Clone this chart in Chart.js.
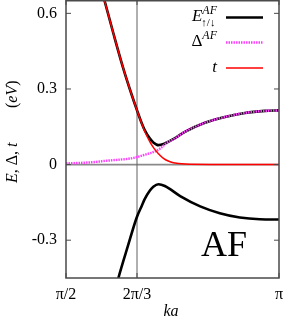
<!DOCTYPE html>
<html>
<head>
<meta charset="utf-8">
<script src="https://cdn.jsdelivr.net/npm/chart.js@4/dist/chart.umd.min.js"></script>
<style>
html,body{margin:0;padding:0;background:#fff;}
#wrap{width:285px;height:318px;position:relative;}
</style>
</head>
<body>
<div id="wrap"><canvas id="c" width="285" height="318"></canvas></div>
<script>
// x values are ka in units of pi
const xTicks = [0.5, 2/3, 1.0];
const xTickLabels = ['π/2', '2π/3', 'π'];
const yTicks = [-0.3, 0, 0.3, 0.6];
const yTickLabels = ['-0.3', '0', '0.3', '0.6'];

const kaEUp = [0.575, 0.590, 0.611, 0.633, 0.654, 0.668, 0.678, 0.685, 0.697, 0.705, 0.717, 0.732, 0.756, 0.779, 0.826, 0.873, 0.920, 0.967, 1.000];
const eUp   = [0.75,  0.653, 0.522, 0.390, 0.278, 0.209, 0.163, 0.136, 0.103, 0.088, 0.077, 0.084, 0.105, 0.130, 0.166, 0.189, 0.205, 0.213, 0.215];

const kaEDn = [0.600, 0.623, 0.645, 0.666, 0.678, 0.685, 0.697, 0.705, 0.717, 0.732, 0.768, 0.815, 0.861, 0.908, 0.955, 1.000];
const eDn   = [-0.60, -0.45, -0.325, -0.210, -0.163, -0.136, -0.103, -0.088, -0.078, -0.085, -0.125, -0.166, -0.193, -0.210, -0.217, -0.218];

const kaDelta = [0.5, 0.55, 0.6, 0.65, 0.667, 0.681, 0.697, 0.709, 0.722, 0.736, 0.756, 0.779, 0.826, 0.873, 0.920, 0.967, 1.000];
const delta   = [0.005, 0.008, 0.016, 0.024, 0.030, 0.037, 0.045, 0.052, 0.065, 0.086, 0.105, 0.130, 0.166, 0.189, 0.205, 0.213, 0.215];

const kaT = [0.575, 0.590, 0.611, 0.633, 0.654, 0.668, 0.678, 0.685, 0.697, 0.705, 0.717, 0.728, 0.740, 0.752, 0.780, 0.850, 1.000];
const tVals = [0.75, 0.653, 0.522, 0.390, 0.278, 0.209, 0.162, 0.131, 0.090, 0.068, 0.043, 0.026, 0.014, 0.007, 0.002, 0.0005, 0.0];

const seriesLabels = ['E', 'Δ', 't'];

const pts = (xs, ys) => xs.map((x, i) => ({x: x, y: ys[i]}));

const SERIF = '"Liberation Serif", "DejaVu Serif", serif';

function drawRuns(ctx, runs, x, y, align) {
  let total = 0;
  runs.forEach(r => { ctx.font = r[1]; total += ctx.measureText(r[0]).width; });
  let cx = align === 'right' ? x - total : (align === 'center' ? x - total / 2 : x);
  runs.forEach(r => {
    ctx.font = r[1];
    ctx.fillText(r[0], cx, y + (r[2] || 0));
    cx += ctx.measureText(r[0]).width;
  });
  return total;
}

const decor = {
  id: 'decor',
  beforeDatasetsDraw(chart) {
    const {ctx, chartArea: a, scales: {x, y}} = chart;
    ctx.save();
    const y0 = y.getPixelForValue(0);
    ctx.strokeStyle = '#8a8a8a';
    ctx.lineWidth = 1.8;
    ctx.beginPath(); ctx.moveTo(a.left, y0); ctx.lineTo(a.right, y0); ctx.stroke();
    const xv = x.getPixelForValue(xTicks[1]);
    ctx.strokeStyle = '#606060';
    ctx.lineWidth = 1;
    ctx.beginPath(); ctx.moveTo(xv, a.top); ctx.lineTo(xv, a.bottom); ctx.stroke();
    ctx.restore();
  },
  afterDraw(chart) {
    const {ctx, chartArea: a, scales: {x, y}} = chart;
    ctx.save();
    ctx.strokeStyle = '#4a4a4a';
    ctx.lineWidth = 1.5;
    ctx.strokeRect(a.left, a.top + 0.75, a.right - a.left, a.bottom - a.top - 0.75);
    ctx.lineWidth = 1;
    ctx.beginPath();
    yTicks.forEach(v => {
      const py = y.getPixelForValue(v);
      ctx.moveTo(a.left, py); ctx.lineTo(a.left + 5, py);
      ctx.moveTo(a.right, py); ctx.lineTo(a.right - 5, py);
    });
    xTicks.forEach(v => {
      const px = x.getPixelForValue(v);
      ctx.moveTo(px, a.bottom); ctx.lineTo(px, a.bottom - 5);
      ctx.moveTo(px, a.top); ctx.lineTo(px, a.top + 5);
    });
    ctx.stroke();

    ctx.fillStyle = '#000';
    ctx.textBaseline = 'alphabetic';
    const lx = 217, sx0 = 226, sx1 = 263;
    const ds = chart.data.datasets;
    // E^{AF}_{↑/↓}
    ctx.font = 'italic 17px ' + SERIF;
    const eW = ctx.measureText(seriesLabels[0]).width;
    ctx.font = 'italic 12px ' + SERIF;
    const supW = ctx.measureText('AF').width;
    ctx.font = '11px ' + SERIF;
    const subW = ctx.measureText('↑/↓').width;
    const ex = lx - eW - Math.max(supW, subW);
    ctx.font = 'italic 17px ' + SERIF;
    ctx.fillText(seriesLabels[0], ex, 21);
    ctx.font = 'italic 12px ' + SERIF;
    ctx.fillText('AF', ex + eW, 14);
    ctx.font = '11px ' + SERIF;
    ctx.fillText('↑/↓', ex + eW - 1, 26);
    // Δ^{AF}
    drawRuns(ctx, [[seriesLabels[1], '17px ' + SERIF, 0], ['AF', 'italic 12px ' + SERIF, -7]], lx, 46, 'right');
    // t
    drawRuns(ctx, [[seriesLabels[2], 'italic 17px ' + SERIF, 0]], lx, 72, 'right');
    const samples = [[ds[0], 17.5], [ds[2], 42.5], [ds[3], 68]];
    samples.forEach(([d, py]) => {
      ctx.strokeStyle = d.borderColor;
      ctx.lineWidth = d.borderWidth;
      ctx.setLineDash(d.borderDash || []);
      ctx.beginPath(); ctx.moveTo(sx0, py); ctx.lineTo(sx1, py); ctx.stroke();
    });
    ctx.setLineDash([]);

    ctx.font = '36px ' + SERIF;
    ctx.textAlign = 'left';
    ctx.fillText('AF', 201, 256);

    drawRuns(ctx, [['ka', 'italic 16px ' + SERIF, 0]], 171, 316, 'center');

    // y title (rotated), reads bottom to top
    ctx.save();
    ctx.translate(17, 0);
    ctx.rotate(-Math.PI / 2);
    drawRuns(ctx, [
      ['E', 'italic 16px ' + SERIF, 0],
      [', ', '16px ' + SERIF, 0],
      ['Δ', '16px ' + SERIF, 0],
      [', ', '16px ' + SERIF, 0],
      ['t', 'italic 16px ' + SERIF, 0]
    ], -183, 0, 'left');
    drawRuns(ctx, [
      ['(', '16px ' + SERIF, 0],
      ['eV', 'italic 16px ' + SERIF, 0],
      [')', '16px ' + SERIF, 0]
    ], -108, 0, 'left');
    ctx.restore();
    ctx.restore();
  }
};

new Chart(document.getElementById('c'), {
  type: 'line',
  data: {
    datasets: [
      {label: 'E up', data: pts(kaEUp, eUp), borderColor: '#000000', borderWidth: 2.6, pointRadius: 0, cubicInterpolationMode: 'monotone', order: 3},
      {label: 'E down', data: pts(kaEDn, eDn), borderColor: '#000000', borderWidth: 2.6, pointRadius: 0, cubicInterpolationMode: 'monotone', order: 3},
      {label: 'Delta', data: pts(kaDelta, delta), borderColor: '#ff40ff', borderWidth: 2.4, borderDash: [1.5, 1], pointRadius: 0, cubicInterpolationMode: 'monotone', order: 2},
      {label: 't', data: pts(kaT, tVals), borderColor: '#ff0000', borderWidth: 1.5, pointRadius: 0, cubicInterpolationMode: 'monotone', order: 1}
    ]
  },
  options: {
    responsive: false,
    animation: false,
    devicePixelRatio: 1,
    layout: {padding: {left: 0, right: 6, top: 0, bottom: 0}},
    plugins: {legend: {display: false}, tooltip: {enabled: false}},
    scales: {
      x: {
        type: 'linear', min: 0.5, max: 1.0,
        grid: {display: false, drawTicks: false},
        border: {display: false},
        afterBuildTicks: s => { s.ticks = xTicks.map(v => ({value: v})); },
        afterFit: s => { s.height = 40; s.paddingLeft = 0; s.paddingRight = 0; s.paddingTop = 0; s.paddingBottom = 0; },
        ticks: {
          padding: 7, color: '#000', maxRotation: 0,
          font: {family: SERIF, size: 16},
          callback: (v) => { const i = xTicks.findIndex(t => Math.abs(t - v) < 1e-6); return i >= 0 ? xTickLabels[i] : ''; }
        }
      },
      y: {
        type: 'linear', min: -0.45, max: 0.653,
        grid: {display: false, drawTicks: false},
        border: {display: false},
        afterBuildTicks: s => { s.ticks = yTicks.map(v => ({value: v})); },
        afterFit: s => { s.width = 66; s.paddingLeft = 0; s.paddingRight = 0; s.paddingTop = 0; s.paddingBottom = 0; },
        ticks: {
          padding: 9, color: '#000',
          font: {family: SERIF, size: 16},
          callback: (v) => { const i = yTicks.findIndex(t => Math.abs(t - v) < 1e-6); return i >= 0 ? yTickLabels[i] : ''; }
        }
      }
    }
  },
  plugins: [decor]
});
</script>
</body>
</html>
